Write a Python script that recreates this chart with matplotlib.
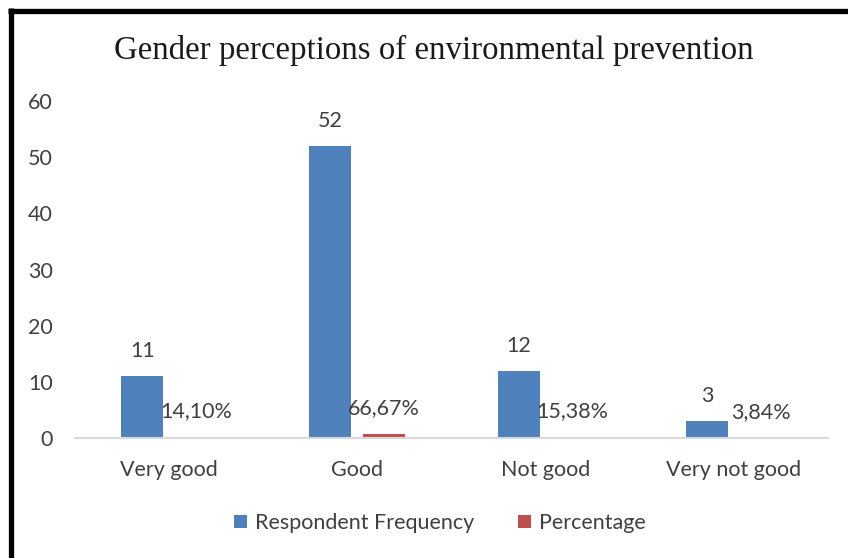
import matplotlib.pyplot as plt
from matplotlib.lines import Line2D
import numpy as np

categories = ["Very good", "Good", "Not good", "Very not good"]
frequency = [11, 52, 12, 3]
percentage = [0.1410, 0.6667, 0.1538, 0.0384]  # plotted as fractions on the same axis
pct_labels = ["14,10%", "66,67%", "15,38%", "3,84%"]

blue = "#4F81BD"
red = "#C0504D"
grey_text = "#404040"
fs = 15.5

plt.rcParams["font.family"] = ["Lato", "DejaVu Sans"]

fig = plt.figure(figsize=(8.48, 5.58), dpi=100)
ax = fig.add_axes([75 / 848, 120 / 558, 753 / 848, 337 / 558])

x = np.arange(len(categories))
w = 0.223
off = 0.143
ax.bar(x - off, frequency, w, color=blue, label="Respondent Frequency")
ax.bar(x + off, percentage, w, color=red, label="Percentage")

# data labels
for xi, v in zip(x, frequency):
    ax.annotate(str(v), (xi - off, v), xytext=(0, 18), textcoords="offset points",
                ha="center", va="center", fontsize=fs, color=grey_text)
for xi, v, lab in zip(x, percentage, pct_labels):
    ax.annotate(lab, (xi + off, v), xytext=(0, 18.5), textcoords="offset points",
                ha="center", va="center", fontsize=fs, color=grey_text)

ax.set_xlim(-0.5, 3.5)
ax.set_ylim(0, 60)
ax.set_yticks(range(0, 61, 10))
ax.set_xticks(x)
ax.set_xticklabels(categories)
ax.tick_params(axis="both", length=0, labelsize=fs, labelcolor=grey_text)
ax.tick_params(axis="y", pad=16)
ax.tick_params(axis="x", pad=16)
for s in ["top", "right", "left"]:
    ax.spines[s].set_visible(False)
ax.spines["bottom"].set_color("#D9D9D9")
ax.spines["bottom"].set_linewidth(1.5)

fig.text(434 / 848, 1 - 50 / 558, "Gender perceptions of environmental prevention",
         ha="center", va="center", fontsize=23.7, family="Liberation Serif", color="#1a1a1a")

fig.legend(loc="center", bbox_to_anchor=(440 / 848, 35 / 558), ncol=2, frameon=False,
           fontsize=fs, handlelength=0.6, handleheight=0.6, handletextpad=0.4,
           columnspacing=2.0, labelcolor=grey_text)

# black frame on left and top
fig.add_artist(Line2D([10.7 / 848, 10.7 / 848], [0, 1 - 8 / 558], color="black",
                      linewidth=3.8, transform=fig.transFigure, solid_capstyle="butt"))
fig.add_artist(Line2D([8 / 848, 1], [1 - 10.7 / 558, 1 - 10.7 / 558], color="black",
                      linewidth=3.8, transform=fig.transFigure, solid_capstyle="butt"))

fig.savefig("out.png", dpi=100)
